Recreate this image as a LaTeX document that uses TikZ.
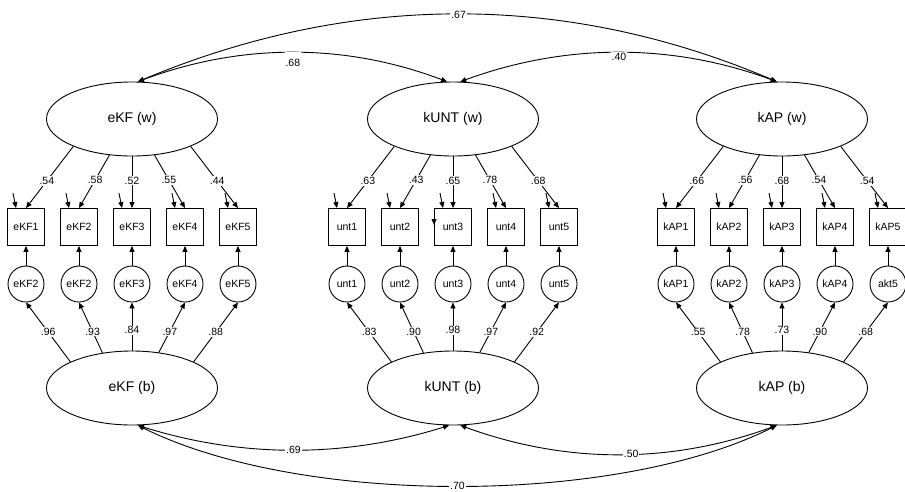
\documentclass[tikz,border=0pt]{standalone}
\usepackage{fontspec}
\setmainfont{Liberation Sans}
\usetikzlibrary{shapes.geometric,arrows.meta}

\tikzset{
    latent/.style={draw, ellipse, line width=0.9pt, minimum width=171pt, minimum height=74pt, inner sep=0pt, font=\fontsize{14}{16}\selectfont},
    manifest/.style={draw, rectangle, line width=0.9pt, minimum size=37pt, inner sep=0pt, font=\fontsize{10.5}{12}\selectfont},
    resid/.style={draw, circle, line width=0.9pt, minimum size=36pt, inner sep=0pt, font=\fontsize{10.5}{12}\selectfont},
    load/.style={line width=0.9pt, -{Triangle[length=6pt,width=5pt]}},
    cov/.style={line width=0.9pt, {Triangle[length=6pt,width=5pt]}-{Triangle[length=6pt,width=5pt]}},
    coef/.style={fill=white, inner sep=1pt, font=\fontsize{10.5}{12}\selectfont}
}

\begin{document}
\begin{tikzpicture}[x=1pt,y=-1pt]
    \useasboundingbox (0,0) rectangle (905,491);
    % eKF
    \begin{scope}[shift={(132,0)}]
        \node[latent] (ekfw) at (0,119) {eKF (w)};
        \node[latent] (ekfb) at (0,388) {eKF (b)};
        \foreach \j/\x/\res in {1/-106/eKF2, 2/-53/eKF2, 3/0/eKF3, 4/53/eKF4, 5/106/eKF5} {
            \node[manifest] (ekf\j) at (\x,227) {eKF\j};
            \node[resid] (ekfe\j) at (\x,284) {\res};
            \draw[load] (ekfe\j) -- (ekf\j);
            \coordinate (ekfd\j) at ([xshift=-13pt,yshift=15pt]ekf\j.north);
            \draw[load] (ekfd\j) -- ([xshift=-10pt]ekf\j.north);
        }
        \foreach \j/\a/\p/\v in {1/205/.56/.54, 2/238/.47/.58, 3/270/.47/.52, 4/302/.47/.55, 5/335/.56/.44}
            \draw[load] (ekfw.\a) -- node[coef, pos=\p] {\v} (ekf\j.north);
        \foreach \j/\a/\p/\v in {1/157/.5/.96, 2/130/.42/.93, 3/90/.42/.84, 4/53/.42/.97, 5/23/.5/.88}
            \draw[load] (ekfb.\a) -- node[coef, pos=\p] {\v} (ekfe\j.south);
    \end{scope}
    % kUNT
    \begin{scope}[shift={(453,0)}]
        \node[latent] (kuntw) at (0,119) {kUNT (w)};
        \node[latent] (kuntb) at (0,388) {kUNT (b)};
        \foreach \j/\x in {1/-106, 2/-53, 3/0, 4/53, 5/106} {
            \node[manifest] (unt\j) at (\x,227) {unt\j};
            \node[resid] (unte\j) at (\x,284) {unt\j};
            \draw[load] (unte\j) -- (unt\j);
            \coordinate (untd\j) at ([xshift=-13pt,yshift=15pt]unt\j.north);
            \draw[load] (untd\j) -- ([xshift=-10pt]unt\j.north);
        }
        \coordinate (untx) at ([yshift=9pt]unt3.west);
        \draw[load] (untx) -- ([yshift=2pt]unt3.west);
        \foreach \j/\a/\p/\v in {1/205/.56/.63, 2/238/.47/.43, 3/270/.47/.65, 4/302/.47/.78, 5/335/.56/.68}
            \draw[load] (kuntw.\a) -- node[coef, pos=\p] {\v} (unt\j.north);
        \foreach \j/\a/\p/\v in {1/157/.5/.83, 2/130/.42/.90, 3/90/.42/.98, 4/53/.42/.97, 5/23/.5/.92}
            \draw[load] (kuntb.\a) -- node[coef, pos=\p] {\v} (unte\j.south);
    \end{scope}
    % kAP
    \begin{scope}[shift={(782,0)}]
        \node[latent] (kapw) at (0,119) {kAP (w)};
        \node[latent] (kapb) at (0,388) {kAP (b)};
        \foreach \j/\x/\res in {1/-106/kAP1, 2/-53/kAP2, 3/0/kAP3, 4/53/kAP4, 5/106/akt5} {
            \node[manifest] (kap\j) at (\x,227) {kAP\j};
            \node[resid] (kape\j) at (\x,284) {\res};
            \draw[load] (kape\j) -- (kap\j);
            \coordinate (kapd\j) at ([xshift=-13pt,yshift=15pt]kap\j.north);
            \draw[load] (kapd\j) -- ([xshift=-10pt]kap\j.north);
        }
        \foreach \j/\a/\p/\v in {1/205/.56/.66, 2/238/.47/.56, 3/270/.47/.68, 4/302/.47/.54, 5/335/.56/.54}
            \draw[load] (kapw.\a) -- node[coef, pos=\p] {\v} (kap\j.north);
        \foreach \j/\a/\p/\v in {1/157/.5/.55, 2/130/.42/.78, 3/90/.42/.73, 4/53/.42/.90, 5/23/.5/.68}
            \draw[load] (kapb.\a) -- node[coef, pos=\p] {\v} (kape\j.south);
    \end{scope}
    % covariances
    \draw[cov] (ekfw.81) .. controls (352,-8) and (566,-8) .. node[coef, pos=.5] {.67} (kapw.98);
    \draw[cov] (ekfw.81) .. controls (241,43) and (345,43) .. node[coef, pos=.5, anchor=north, inner ysep=7pt, yshift=1pt] {.68} (kuntw.99);
    \draw[cov] (kuntw.79) .. controls (566,43) and (672,43) .. node[coef, pos=.5, yshift=-4pt] {.40} (kapw.98);
    \draw[cov] (ekfb.279) .. controls (242,458) and (345,458) .. node[coef, pos=.5] {.69} (kuntb.264);
    \draw[cov] (kuntb.281) .. controls (566,464) and (671,464) .. node[coef, pos=.54] {.50} (kapb.262);
    \draw[cov] (ekfb.279) .. controls (300,506) and (615,506) .. node[coef, pos=.5] {.70} (kapb.262);
\end{tikzpicture}
\end{document}
